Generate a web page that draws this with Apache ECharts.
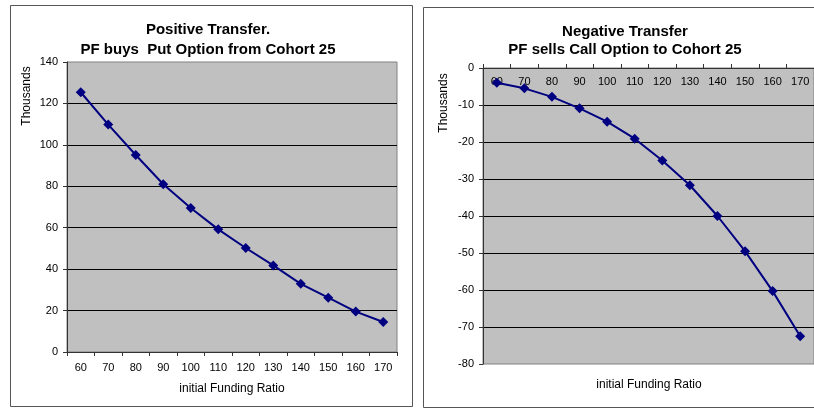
<!DOCTYPE html>
<html><head><meta charset="utf-8">
<script src="https://cdn.jsdelivr.net/npm/echarts@6/dist/echarts.min.js"></script>
<style>html,body{margin:0;padding:0;background:#fff}#c{width:814px;height:410px}</style>
</head><body><div id="c"></div>
<script>
// ---- data ----
const categories = ['60','70','80','90','100','110','120','130','140','150','160','170'];
const positiveTransfer = [125.4, 109.8, 95.1, 81.0, 69.5, 59.2, 50.2, 41.8, 32.9, 26.2, 19.5, 14.5];
const negativeTransfer = [-4.0, -5.5, -7.8, -10.9, -14.5, -19.1, -25.0, -31.7, -40.0, -49.5, -60.3, -72.5];
const leftTitle = ['Positive Transfer.', 'PF buys  Put Option from Cohort 25'];
const rightTitle = ['Negative Transfer', 'PF sells Call Option to Cohort 25'];
const yName = 'Thousands';
const xName = 'initial Funding Ratio';

const FONT = '"Liberation Sans", Arial, sans-serif';
const NAVY = '#000080';

function txt(x, y, text, size, bold, rot) {
  return {
    type: 'text', x: x, y: y, rotation: rot || 0,
    style: { text: text, fontFamily: FONT, fontSize: size, fontWeight: bold ? 'bold' : 'normal',
             fill: '#000', textAlign: 'center', textVerticalAlign: 'middle' }
  };
}

const chart = echarts.init(document.getElementById('c'));
chart.setOption({
  backgroundColor: '#fff',
  animation: false,
  graphic: [
    { type: 'rect', shape: { x: 10.5, y: 5.5, width: 402, height: 401 }, style: { fill: 'none', stroke: '#555', lineWidth: 1 } },
    { type: 'rect', shape: { x: 423.5, y: 7.5, width: 420, height: 400 }, style: { fill: 'none', stroke: '#555', lineWidth: 1 } },
    txt(208, 30, leftTitle[0], 15, true),
    txt(208, 50, leftTitle[1], 15, true),
    txt(625, 32, rightTitle[0], 15, true),
    txt(625, 50, rightTitle[1], 15, true),
    { type: 'text', x: 27, y: 96, rotation: Math.PI / 2,
      style: { text: yName, fontFamily: FONT, fontSize: 12, fill: '#000', textAlign: 'center', textVerticalAlign: 'middle' } },
    { type: 'text', x: 444, y: 103, rotation: Math.PI / 2,
      style: { text: yName, fontFamily: FONT, fontSize: 12, fill: '#000', textAlign: 'center', textVerticalAlign: 'middle' } },
    txt(232, 389, xName, 12, false),
    txt(649, 385, xName, 12, false)
  ],
  grid: [
    { left: 67, top: 62, width: 330, height: 290, show: true, backgroundColor: '#c0c0c0', borderColor: '#808080', borderWidth: 1 },
    { left: 483, top: 68, width: 336, height: 296, show: true, backgroundColor: '#c0c0c0', borderColor: '#808080', borderWidth: 1 }
  ],
  xAxis: [
    { type: 'category', gridIndex: 0, data: categories, boundaryGap: true,
      axisLine: { lineStyle: { color: '#333', width: 1 } },
      axisTick: { show: true, length: 4, lineStyle: { color: '#333' } },
      axisLabel: { color: '#000', fontFamily: FONT, fontSize: 11, margin: 10 },
      splitLine: { show: false } },
    { type: 'category', gridIndex: 1, data: categories, boundaryGap: true, position: 'top',
      axisLine: { onZero: false, lineStyle: { color: '#333', width: 1 } },
      axisTick: { show: true, length: 4, lineStyle: { color: '#333' } },
      axisLabel: { inside: true, color: '#000', fontFamily: FONT, fontSize: 11, margin: 8 },
      splitLine: { show: false } }
  ],
  yAxis: [
    { type: 'value', gridIndex: 0, min: 0, max: 140, interval: 20,
      axisLine: { show: true, lineStyle: { color: '#333', width: 1 } },
      axisTick: { show: true, length: 4, lineStyle: { color: '#333' } },
      axisLabel: { color: '#000', fontFamily: FONT, fontSize: 11, margin: 9 },
      splitLine: { show: true, showMinLine: false, showMaxLine: false, lineStyle: { color: '#000', width: 1 } } },
    { type: 'value', gridIndex: 1, min: -80, max: 0, interval: 10,
      axisLine: { show: true, lineStyle: { color: '#333', width: 1 } },
      axisTick: { show: true, length: 4, lineStyle: { color: '#333' } },
      axisLabel: { color: '#000', fontFamily: FONT, fontSize: 11, margin: 9 },
      splitLine: { show: true, showMinLine: false, showMaxLine: false, lineStyle: { color: '#000', width: 1 } } }
  ],
  series: [
    { type: 'line', xAxisIndex: 0, yAxisIndex: 0, data: positiveTransfer,
      symbol: 'diamond', symbolSize: 10, lineStyle: { color: NAVY, width: 2 }, itemStyle: { color: NAVY } },
    { type: 'line', xAxisIndex: 1, yAxisIndex: 1, data: negativeTransfer,
      symbol: 'diamond', symbolSize: 10, lineStyle: { color: NAVY, width: 2 }, itemStyle: { color: NAVY } }
  ]
});
</script>
</body></html>
